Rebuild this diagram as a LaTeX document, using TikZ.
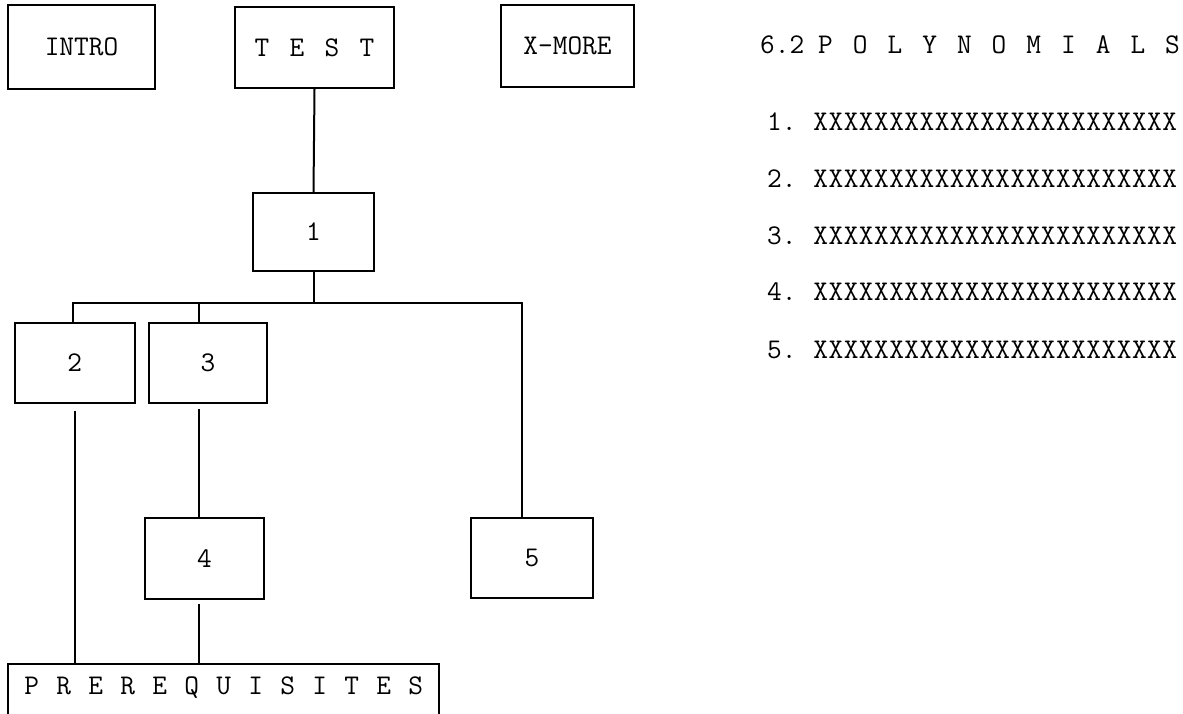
\documentclass[tikz,border=0pt]{standalone}
\usepackage{fontspec}
\makeatletter
\newcommand\pitchtext[2]{\def\pt@w{#1}\pt@loop#2\pt@end}
\def\pt@loop#1{\ifx#1\pt@end\else\makebox[\pt@w][c]{#1}\expandafter\pt@loop\fi}
\let\pt@end\relax
\makeatother
\begin{document}
\begin{tikzpicture}[x=1pt,y=-1pt,
  tw/.style={font=\ttfamily\fontsize{28.5}{32}\selectfont\addfontfeature{FakeBold=1.6}},
  box/.style={draw, line width=2pt, rectangle, inner sep=0pt, tw},
  conn/.style={line width=2pt},
  txt/.style={anchor=west, inner sep=0pt, tw}]
\useasboundingbox (0,0) rectangle (1183,713);
\clip (0,0) rectangle (1183,713);
% top row
\node[box, minimum width=147pt, minimum height=84pt] (intro) at (81.5,47) {INTRO};
\node[box, minimum width=159pt, minimum height=81pt] (test) at (314.5,47.5) {\pitchtext{35pt}{TEST}};
\node[box, minimum width=133pt, minimum height=82pt] (xmore) at (567.5,46) {X-MORE};
% tree
\node[box, minimum width=121pt, minimum height=78pt] (b1) at (313.5,232) {1};
\node[box, minimum width=120pt, minimum height=80pt] (b2) at (74.75,363) {2};
\node[box, minimum width=118pt, minimum height=80pt] (b3) at (208,363) {3};
\node[box, minimum width=119pt, minimum height=81pt] (b4) at (204.5,558.5) {4};
\node[box, minimum width=122pt, minimum height=80pt] (b5) at (532,558) {5};
\node[rectangle, inner sep=0pt, tw, minimum width=431pt, minimum height=48pt] (pre) at (223.7,688) {\pitchtext{32pt}{PREREQUISITES}};
\draw[conn] ([yshift=-8pt]pre.south west) -- (pre.north west) -- (pre.north east) -- ([yshift=-8pt]pre.south east);
% connectors
\coordinate (busL) at (73,303);
\coordinate (busM) at (199,303);
\coordinate (busR) at (522,303);
\coordinate (c3) at (198.5,409);
\draw[conn] (test.south) -- (b1.north);
\draw[conn] (b1.south) -- (b1.south |- busL);
\draw[conn] (busL |- b2.north) -- (busL) -- (busR) -- (busR |- b5.north);
\draw[conn] (busM) -- (busM |- b3.north);
\draw[conn] ([yshift=-7pt]b2.south) -- (b2.south |- pre.north);
\draw[conn] (c3) -- (c3 |- b4.north);
\draw[conn] ([yshift=-4pt]c3 |- b4.south) -- (c3 |- pre.north);
% right text
\node[txt] (head) at (760,45) {\makebox[48pt][l]{6.2}\pitchtext{34.7pt}{POLYNOMIALS}};
\node[txt] (l1) at (767,122) {\makebox[46pt][l]{1.}\pitchtext{15.17pt}{XXXXXXXXXXXXXXXXXXXXXXXX}};
\node[txt] (l2) at (767,179) {\makebox[46pt][l]{2.}\pitchtext{15.17pt}{XXXXXXXXXXXXXXXXXXXXXXXX}};
\node[txt] (l3) at (767,236) {\makebox[46pt][l]{3.}\pitchtext{15.17pt}{XXXXXXXXXXXXXXXXXXXXXXXX}};
\node[txt] (l4) at (767,292) {\makebox[46pt][l]{4.}\pitchtext{15.17pt}{XXXXXXXXXXXXXXXXXXXXXXXX}};
\node[txt] (l5) at (767,350) {\makebox[46pt][l]{5.}\pitchtext{15.17pt}{XXXXXXXXXXXXXXXXXXXXXXXX}};
\end{tikzpicture}
\end{document}
